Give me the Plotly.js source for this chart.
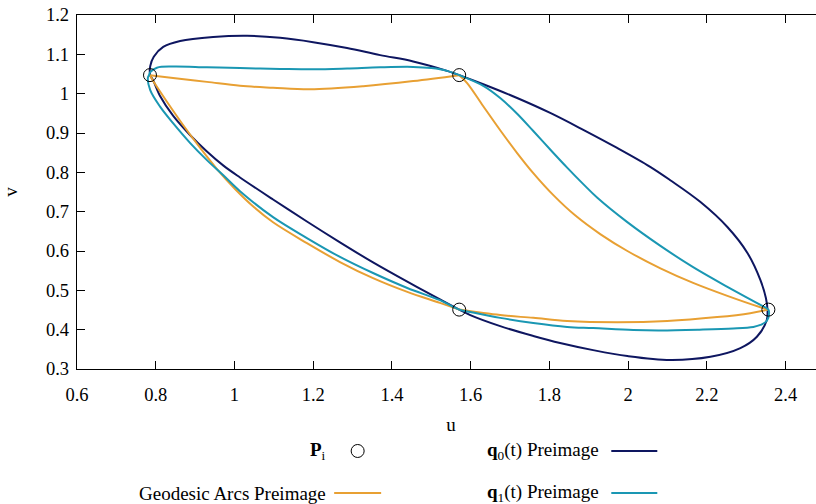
<!DOCTYPE html>
<html>
<head>
<meta charset="utf-8">
<script src="https://cdn.plot.ly/plotly-3.0.1.min.js"></script>
<style>
html,body{margin:0;padding:0;overflow:hidden;background:#fff;}
#chart{width:830px;height:504px;}
</style>
</head>
<body>
<div id="chart"></div>
<script>
// Points P_i
const P_u = [0.7854, 1.5708, 1.5708, 2.3562];
const P_v = [1.0472, 1.0472, 0.4510, 0.4510];

// q0(t) preimage (closed curve)
const q0_u = [0.786,0.786,0.795,0.819,0.862,0.946,1.032,1.116,1.200,1.286,1.370,1.454,1.540,1.571,1.632,1.718,1.802,1.886,1.972,2.056,2.107,2.183,2.252,2.303,2.336,2.350,2.354,2.352,2.327,2.285,2.209,2.107,1.998,1.911,1.827,1.759,1.675,1.599,1.571,1.522,1.439,1.352,1.268,1.184,1.098,1.014,0.972,0.930,0.887,0.844,0.811,0.793,0.786];
const q0_v = [1.047,1.070,1.094,1.119,1.134,1.144,1.147,1.142,1.131,1.116,1.098,1.082,1.058,1.047,1.024,0.989,0.951,0.908,0.862,0.814,0.780,0.725,0.661,0.595,0.526,0.480,0.450,0.424,0.382,0.353,0.331,0.323,0.333,0.348,0.366,0.384,0.409,0.437,0.451,0.477,0.522,0.571,0.622,0.675,0.731,0.787,0.817,0.853,0.895,0.944,0.994,1.035,1.047];

// q1(t) preimage (closed curve)
const q1_u = [0.783,0.786,0.803,0.844,0.930,1.014,1.116,1.200,1.286,1.370,1.454,1.500,1.540,1.571,1.632,1.675,1.718,1.759,1.802,1.845,1.886,1.921,1.997,2.082,2.165,2.252,2.336,2.356,2.358,2.352,2.336,2.318,2.267,2.181,2.082,2.013,1.911,1.845,1.759,1.675,1.599,1.571,1.522,1.439,1.352,1.268,1.184,1.098,1.014,0.971,0.930,0.887,0.844,0.811,0.786,0.780,0.783];
const q1_v = [1.047,1.055,1.066,1.069,1.067,1.065,1.063,1.062,1.064,1.067,1.068,1.065,1.058,1.047,1.020,0.989,0.949,0.905,0.858,0.812,0.770,0.736,0.674,0.613,0.559,0.509,0.463,0.451,0.442,0.422,0.412,0.407,0.403,0.400,0.398,0.399,0.404,0.407,0.417,0.430,0.445,0.451,0.475,0.506,0.544,0.585,0.633,0.686,0.752,0.793,0.831,0.875,0.925,0.967,1.009,1.040,1.047];

// Geodesic arcs preimage (four arcs)
const gA_u = [0.785,0.844,0.930,1.014,1.098,1.192,1.327,1.454,1.571];
const gA_v = [1.047,1.040,1.030,1.020,1.015,1.011,1.019,1.032,1.047];
const gB_u = [1.571,1.591,1.632,1.675,1.718,1.759,1.810,1.866,1.929,1.998,2.082,2.165,2.252,2.336,2.356];
const gB_v = [1.047,1.027,0.968,0.907,0.849,0.798,0.742,0.690,0.643,0.600,0.556,0.519,0.486,0.457,0.451];
const gC_u = [2.356,2.310,2.226,2.099,1.972,1.845,1.759,1.675,1.571];
const gC_v = [0.451,0.442,0.432,0.422,0.419,0.422,0.430,0.437,0.451];
const gD_u = [1.571,1.522,1.439,1.352,1.268,1.184,1.098,1.050,1.002,0.955,0.913,0.869,0.828,0.798,0.785];
const gD_v = [0.451,0.468,0.496,0.531,0.572,0.620,0.673,0.711,0.757,0.809,0.862,0.921,0.980,1.025,1.047];

// Ticks
const xTickVals = [0.6,0.8,1.0,1.2,1.4,1.6,1.8,2.0,2.2,2.4];
const xTickText = ["0.6","0.8","1","1.2","1.4","1.6","1.8","2","2.2","2.4"];
const yTickVals = [0.3,0.4,0.5,0.6,0.7,0.8,0.9,1.0,1.1,1.2];
const yTickText = ["0.3","0.4","0.5","0.6","0.7","0.8","0.9","1","1.1","1.2"];

const NAVY = '#0e1660', TEAL = '#1a97b3', ORANGE = '#e8a033';
const FAM = 'Liberation Serif';

function line(u, v, color) {
  return {x: u, y: v, type: 'scatter', mode: 'lines', showlegend: false, hoverinfo: 'skip',
          line: {color: color, width: 2, shape: 'spline', smoothing: 1}};
}

const traces = [
  line(q0_u, q0_v, NAVY),
  line(gA_u, gA_v, ORANGE),
  line(gB_u, gB_v, ORANGE),
  line(gC_u, gC_v, ORANGE),
  line(gD_u, gD_v, ORANGE),
  line(q1_u, q1_v, TEAL),
  {x: P_u, y: P_v, type: 'scatter', mode: 'markers', showlegend: false,
   marker: {symbol: 'circle-open', size: 13, color: '#000', line: {width: 1, color: '#000'}}}
];

// legend layout (paper coordinates)
const row1 = -0.2316, row2 = -0.3503;
const textRight1 = 0.336, textRight2 = 0.7009;
const sample1 = [0.3438, 0.4066], sample2 = [0.7143, 0.7758];

const annotations = [
  {text: '<b>P</b><sub>i</sub>', x: textRight1, y: row1},
  {text: '<b>q</b><sub>0</sub>(t) Preimage', x: textRight2, y: row1},
  {text: 'Geodesic Arcs Preimage', x: textRight1, y: row2},
  {text: '<b>q</b><sub>1</sub>(t) Preimage', x: textRight2, y: row2}
].map(a => Object.assign({xref: 'paper', yref: 'paper', xanchor: 'right', yanchor: 'middle',
                          showarrow: false, font: {family: FAM, size: 19, color: '#000'}}, a));

const shapes = [
  {type: 'circle', xref: 'paper', yref: 'paper', xsizemode: 'pixel', ysizemode: 'pixel',
   xanchor: (sample1[0] + sample1[1]) / 2, yanchor: row1, x0: -6.5, x1: 6.5, y0: -6.5, y1: 6.5,
   line: {color: '#000', width: 1}},
  {type: 'line', xref: 'paper', yref: 'paper', x0: sample2[0], x1: sample2[1], y0: row1, y1: row1,
   line: {color: NAVY, width: 2}},
  {type: 'line', xref: 'paper', yref: 'paper', x0: sample1[0], x1: sample1[1], y0: row2, y1: row2,
   line: {color: ORANGE, width: 2}},
  {type: 'line', xref: 'paper', yref: 'paper', x0: sample2[0], x1: sample2[1], y0: row2, y1: row2,
   line: {color: TEAL, width: 2}}
];

function axis(extra) {
  return Object.assign({
    ticks: 'inside', ticklen: 8, tickwidth: 1, tickcolor: '#000',
    showline: true, linecolor: '#000', linewidth: 1.3, mirror: 'ticks',
    showgrid: false, zeroline: false, automargin: false, tickmode: 'array',
    tickfont: {family: FAM, size: 18.5, color: '#000'}
  }, extra);
}

const layout = {
  width: 830, height: 504,
  margin: {l: 77, r: 5, t: 15, b: 135},
  paper_bgcolor: '#fff', plot_bgcolor: '#fff',
  font: {family: FAM, size: 19, color: '#000'},
  showlegend: false,
  xaxis: axis({range: [0.6, 2.5], tickvals: xTickVals, ticktext: xTickText, ticklabelstandoff: 8,
    title: {text: 'u', font: {family: FAM, size: 19, color: '#000'}, standoff: 14}}),
  yaxis: axis({range: [0.3, 1.2], tickvals: yTickVals, ticktext: yTickText, ticklabelstandoff: 3,
    title: {text: 'v', font: {family: FAM, size: 19, color: '#000'}, standoff: 24}}),
  annotations: annotations,
  shapes: shapes
};

Plotly.newPlot('chart', traces, layout, {staticPlot: true, displayModeBar: false});
</script>
</body>
</html>
